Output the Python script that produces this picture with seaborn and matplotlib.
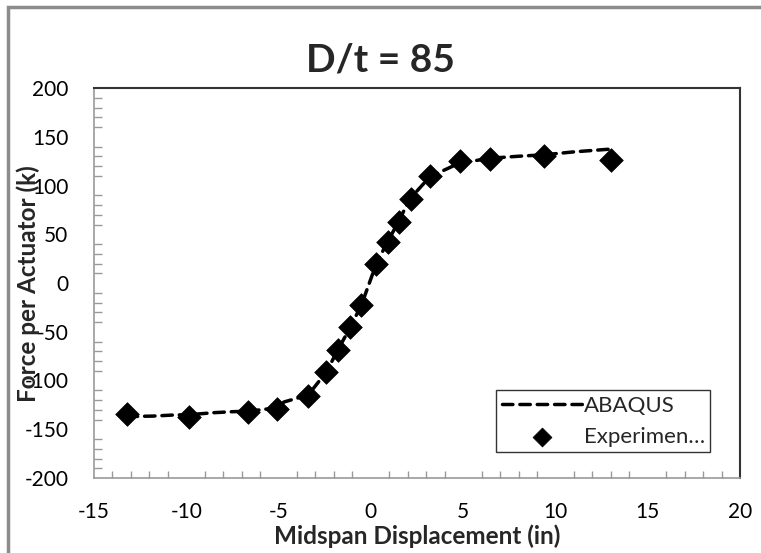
import numpy as np
import pandas as pd
import matplotlib
matplotlib.use("Agg")
import matplotlib.pyplot as plt
from matplotlib.patches import Rectangle
from matplotlib.ticker import MultipleLocator
import seaborn as sns

# Dados
abaqus_x = [-13.2, -11.8, -10.8, -9.8, -8.5, -7.5, -6.6, -5.1, -4.7, -3.4, -2.4, -1.8,
            -1.1, -0.5, 0.3, 0.9, 1.5, 2.1, 3.2, 4.8, 6.5, 8.0, 9.4, 11.0, 13.1]
abaqus_y = [-137, -136.5, -135.5, -135, -133, -132, -131.5, -128, -122, -115, -91, -69,
            -45, -22, 20, 42, 63, 86, 109, 123, 128, 130, 131.5, 134.5, 137.5]

exp_x = [-13.2, -9.85, -6.65, -5.1, -3.4, -2.45, -1.8, -1.15, -0.55, 0.3, 0.95, 1.5,
         2.15, 3.2, 4.85, 6.45, 9.4, 13.0]
exp_y = [-134, -137, -132, -129, -116, -91, -69, -45, -23, 20, 42, 63,
         86, 110, 125, 127, 130, 126]

df_abaqus = pd.DataFrame({"x": abaqus_x, "y": abaqus_y})
df_exp = pd.DataFrame({"x": exp_x, "y": exp_y})

sns.set_style("white")
plt.rcParams["font.family"] = ["Lato", "DejaVu Sans"]
plt.rcParams["axes.unicode_minus"] = False

W, H = 761, 553
fig = plt.figure(figsize=(W / 100, H / 100), dpi=100)
ax = fig.add_axes([94 / W, 1 - 478 / H, (740 - 94) / W, (478 - 88) / H])

sns.lineplot(data=df_abaqus, x="x", y="y", ax=ax, color="black", lw=2.5, sort=False,
             dashes=False, label="ABAQUS")
ax.lines[0].set_dashes((3.0, 2.0))
ax.lines[0].set_dash_capstyle("round")
sns.scatterplot(data=df_exp, x="x", y="y", ax=ax, marker="D", s=145, color="black",
                edgecolor="black", linewidth=0.5, label="Experimen\u2026", zorder=3)

ax.set_xlim(-15, 20)
ax.set_ylim(-200, 200)
ax.xaxis.set_major_locator(MultipleLocator(5))
ax.xaxis.set_minor_locator(MultipleLocator(1))
ax.yaxis.set_major_locator(MultipleLocator(50))
ax.yaxis.set_minor_locator(MultipleLocator(10))
ax.tick_params(which="both", direction="in", colors="#999999", labelcolor="black",
               labelsize=15)
ax.tick_params(axis="x", which="major", length=8, width=1, pad=17.5)
ax.tick_params(axis="x", which="minor", length=5, width=1, bottom=True)
ax.tick_params(axis="y", which="major", length=6, width=1, pad=18.5)
ax.tick_params(axis="y", which="minor", length=6, width=1, left=True)
ax.set_xlabel("")
ax.set_ylabel("")

for s in ["left", "bottom"]:
    ax.spines[s].set_color("#999999")
    ax.spines[s].set_linewidth(1.2)
for s in ["top", "right"]:
    ax.spines[s].set_color("#333333")
    ax.spines[s].set_linewidth(1.5)

leg = ax.legend(loc="upper left", bbox_to_anchor=(496 / W, 1 - 390 / H),
                bbox_transform=fig.transFigure, fontsize=16, frameon=True,
                fancybox=False, edgecolor="black", handlelength=3.6,
                handletextpad=0.1, borderpad=0.25, labelspacing=0.5,
                borderaxespad=0, markerscale=0.8)
leg.get_frame().set_linewidth(1.0)

fig.text(380 / W, 1 - 60 / H, "D/t = 85", ha="center", va="center",
         fontsize=28, fontweight="bold")
fig.text(417 / W, 1 - 536 / H, "Midspan Displacement (in)", ha="center",
         va="center", fontsize=17.5, fontweight="bold")
fig.text(28 / W, 1 - 284 / H, "Force per Actuator (k)", ha="center", va="center",
         rotation=90, fontsize=17.5, fontweight="bold")

# Borda externa do gráfico
fig.add_artist(Rectangle((8 / W, -0.1), 1.2, 1.1 - 7 / H, transform=fig.transFigure,
                         fill=False, edgecolor="#8c8c8c", lw=2.5))

fig.savefig("out.png", dpi=100)
